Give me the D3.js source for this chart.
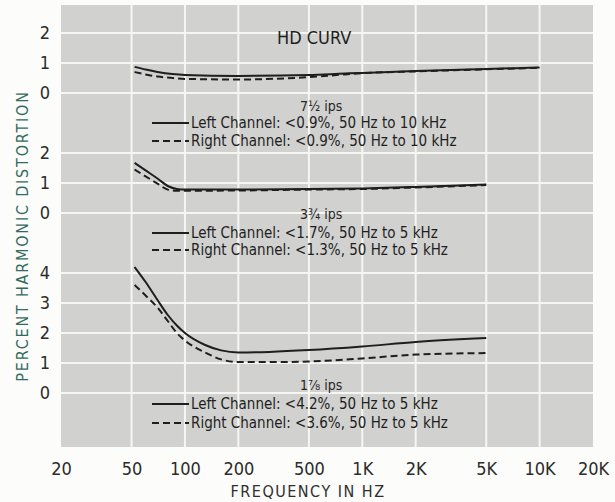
<!DOCTYPE html>
<head>
	<script src="https://d3js.org/d3.v7.min.js"></script>
	<style type="text/css">
		body { margin: 0; background: #fcfcfa; }
		svg { display: block; }
		text { font-family: "Liberation Sans Narrow", "DejaVu Sans Condensed", "Roboto", sans-serif; font-stretch: condensed; }
	</style>
</head>
<body>
	<div id="chart"></div>
</body>
<script>
	// frequency axis
	var freqTicks = [20, 50, 100, 200, 500, 1000, 2000, 5000, 10000, 20000];
	var freqLabels = ["20", "50", "100", "200", "500", "1K", "2K", "5K", "10K", "20K"];

	// 7 1/2 ips
	var hd7Freq  = [52, 60, 70, 85, 100, 200, 500, 800, 1000, 2000, 5000, 10000];
	var hd7Left  = [0.87, 0.78, 0.7, 0.63, 0.6, 0.57, 0.6, 0.65, 0.67, 0.73, 0.8, 0.85];
	var hd7Right = [0.7, 0.62, 0.55, 0.5, 0.47, 0.45, 0.53, 0.62, 0.66, 0.72, 0.79, 0.84];

	// 3 3/4 ips
	var hd3Freq  = [52, 60, 70, 80, 90, 100, 200, 500, 1000, 2000, 5000];
	var hd3Left  = [1.67, 1.42, 1.15, 0.9, 0.8, 0.78, 0.78, 0.8, 0.82, 0.87, 0.95];
	var hd3Right = [1.45, 1.22, 0.98, 0.78, 0.74, 0.74, 0.75, 0.78, 0.8, 0.85, 0.93];

	// 1 7/8 ips
	var hd1Freq  = [52, 60, 70, 80, 90, 100, 130, 160, 200, 300, 500, 1000, 2000, 5000];
	var hd1Left  = [4.2, 3.7, 3.1, 2.6, 2.25, 2.0, 1.6, 1.42, 1.35, 1.37, 1.43, 1.55, 1.7, 1.83];
	var hd1Right = [3.6, 3.25, 2.85, 2.4, 2.0, 1.75, 1.35, 1.12, 1.03, 1.03, 1.05, 1.15, 1.28, 1.33];

	var speedLabels = ["7½ ips", "3¾ ips", "1⅞ ips"];
	var leftNotes  = ["Left Channel: <0.9%, 50 Hz to 10 kHz", "Left Channel: <1.7%, 50 Hz to 5 kHz", "Left Channel: <4.2%, 50 Hz to 5 kHz"];
	var rightNotes = ["Right Channel: <0.9%, 50 Hz to 10 kHz", "Right Channel: <1.3%, 50 Hz to 5 kHz", "Right Channel: <3.6%, 50 Hz to 5 kHz"];
	var yTicks7 = [0, 1, 2];
	var yTicks3 = [0, 1, 2];
	var yTicks1 = [0, 1, 2, 3, 4];

	var width = 615;
	var height = 502;
	var gridLeft = 61, gridRight = 593, gridTop = 5, gridBottom = 447;

	var svg = d3.select("#chart").append("svg")
		.attr("width", width)
		.attr("height", height);

	var x = d3.scaleLog()
		.domain([20, 20000])
		.range([gridLeft, gridRight]);

	// one panel per tape speed, stacked
	var panels = [
		{ freq: hd7Freq, left: hd7Left, right: hd7Right, ticks: yTicks7, y: d3.scaleLinear().domain([0, 2]).range([93, 33]),
		  speedY: 106, leftY: 123, rightY: 141 },
		{ freq: hd3Freq, left: hd3Left, right: hd3Right, ticks: yTicks3, y: d3.scaleLinear().domain([0, 2]).range([213, 153]),
		  speedY: 214, leftY: 233, rightY: 250 },
		{ freq: hd1Freq, left: hd1Left, right: hd1Right, ticks: yTicks1, y: d3.scaleLinear().domain([0, 4]).range([393, 273]),
		  speedY: 385, leftY: 404, rightY: 423 }
	];

	// background
	svg.append("rect")
		.attr("x", gridLeft)
		.attr("y", gridTop)
		.attr("width", gridRight - gridLeft)
		.attr("height", gridBottom - gridTop)
		.attr("fill", "#d1d1cf");

	// vertical grid
	svg.append("g").selectAll("line")
		.data(freqTicks.slice(1, -1))
		.enter().append("line")
		.attr("x1", d => x(d)).attr("x2", d => x(d))
		.attr("y1", gridTop).attr("y2", gridBottom)
		.attr("stroke", "#f6f6f2")
		.attr("stroke-width", 2);

	panels.forEach(function(p, i) {
		// horizontal grid
		svg.append("g").selectAll("line")
			.data(p.ticks)
			.enter().append("line")
			.attr("x1", gridLeft).attr("x2", gridRight)
			.attr("y1", d => p.y(d)).attr("y2", d => p.y(d))
			.attr("stroke", "#f6f6f2")
			.attr("stroke-width", 2);

		// y tick labels
		var ax = svg.append("g")
			.attr("transform", "translate(" + gridLeft + ",0)")
			.call(d3.axisLeft(p.y).tickValues(p.ticks).tickSize(0).tickPadding(11).tickFormat(d3.format("d")));
		ax.select(".domain").remove();
		ax.selectAll("text")
			.attr("fill", "#2b2b2b")
			.style("font-size", "18px")
			.style("font-family", "'Liberation Sans Narrow', 'DejaVu Sans Condensed', sans-serif");

		var line = d3.line()
			.x(d => x(d[0]))
			.y(d => p.y(d[1]))
			.curve(d3.curveMonotoneX);

		svg.append("path")
			.datum(p.freq.map((f, k) => [f, p.right[k]]))
			.attr("d", line)
			.attr("fill", "none")
			.attr("stroke", "#1e1e1e")
			.attr("stroke-width", 2)
			.attr("stroke-dasharray", "7,4");

		svg.append("path")
			.datum(p.freq.map((f, k) => [f, p.left[k]]))
			.attr("d", line)
			.attr("fill", "none")
			.attr("stroke", "#1e1e1e")
			.attr("stroke-width", 2);

		// notes
		svg.append("text")
			.attr("x", 300)
			.attr("y", p.speedY)
			.attr("dy", "0.35em")
			.attr("fill", "#262626")
			.style("font-size", "14px")
			.text(speedLabels[i]);

		svg.append("line")
			.attr("x1", 152).attr("x2", 189)
			.attr("y1", p.leftY).attr("y2", p.leftY)
			.attr("stroke", "#1e1e1e").attr("stroke-width", 2);
		svg.append("line")
			.attr("x1", 152).attr("x2", 189)
			.attr("y1", p.rightY).attr("y2", p.rightY)
			.attr("stroke", "#1e1e1e").attr("stroke-width", 2)
			.attr("stroke-dasharray", "7,4");

		svg.append("text")
			.attr("x", 191)
			.attr("y", p.leftY)
			.attr("dy", "0.35em")
			.attr("fill", "#1e1e1e")
			.style("font-size", "15px")
			.text(leftNotes[i]);
		svg.append("text")
			.attr("x", 191)
			.attr("y", p.rightY)
			.attr("dy", "0.35em")
			.attr("fill", "#1e1e1e")
			.style("font-size", "15px")
			.text(rightNotes[i]);
	});

	// x axis labels
	var xa = svg.append("g")
		.attr("transform", "translate(0," + gridBottom + ")")
		.call(d3.axisBottom(x).tickValues(freqTicks).tickSize(0).tickPadding(15).tickFormat((d, k) => freqLabels[k]));
	xa.select(".domain").remove();
	xa.selectAll("text")
		.attr("fill", "#2b2b2b")
		.style("font-size", "18px")
		.style("font-family", "'Liberation Sans Narrow', 'DejaVu Sans Condensed', sans-serif");

	svg.append("text")
		.attr("x", 308)
		.attr("y", 491)
		.attr("dy", "0.35em")
		.attr("text-anchor", "middle")
		.attr("fill", "#2e2e2e")
		.style("font-size", "16px")
		.style("letter-spacing", "1.5px")
		.text("FREQUENCY IN HZ");

	svg.append("text")
		.attr("transform", "translate(22,236) rotate(-90)")
		.attr("dy", "0.35em")
		.attr("text-anchor", "middle")
		.attr("fill", "#336b5e")
		.style("font-size", "16px")
		.style("letter-spacing", "1.8px")
		.text("PERCENT HARMONIC DISTORTION");

	svg.append("text")
		.attr("x", 277)
		.attr("y", 38)
		.attr("dy", "0.35em")
		.attr("fill", "#1e1e1e")
		.style("font-size", "18px")
		.text("HD CURV");
</script>
